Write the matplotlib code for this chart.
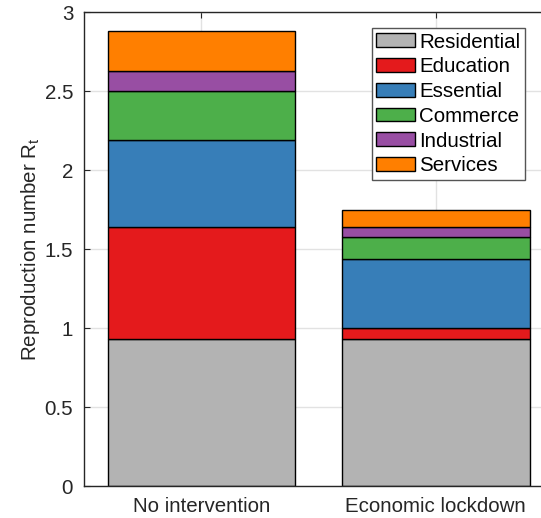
import numpy as np
import matplotlib.pyplot as plt

plt.rcParams['font.family'] = ['Liberation Sans', 'DejaVu Sans']

scenarios = ['No intervention', 'Economic lockdown']
sectors = ['Residential', 'Education', 'Essential', 'Commerce', 'Industrial', 'Services']
colors = ['#b3b3b3', '#e41a1c', '#377eb8', '#4daf4a', '#984ea3', '#ff7f00']

# contribution of each sector to R_t, per scenario
residential = [0.93, 0.93]
education = [0.71, 0.07]
essential = [0.55, 0.44]
commerce = [0.31, 0.14]
industrial = [0.13, 0.06]
services = [0.25, 0.11]

yticks = [0, 0.5, 1, 1.5, 2, 2.5, 3]
ytick_labels = ['0', '0.5', '1', '1.5', '2', '2.5', '3']

fs = 14.8
ink = '#262626'

fig = plt.figure(figsize=(5.41, 5.18), dpi=100)
ax = fig.add_axes([84.3 / 541, 31.7 / 518, (553 - 84.3) / 541, 474 / 518])

x = np.arange(1, len(scenarios) + 1)
bottom = np.zeros(len(scenarios))
for name, vals, c in zip(sectors,
                         [residential, education, essential, commerce, industrial, services],
                         colors):
    ax.bar(x, vals, 0.8, bottom=bottom, color=c, edgecolor='black', linewidth=1, label=name)
    bottom += np.array(vals)

ax.set_xlim(0.5, 2.5)
ax.set_ylim(0, 3)
ax.set_xticks(x)
ax.set_xticklabels(scenarios)
ax.set_yticks(yticks)
ax.set_yticklabels(ytick_labels)
ax.set_ylabel('Reproduction number R$_\\mathregular{t}$', fontsize=fs, color=ink, labelpad=2)

ax.grid(True, color='#e2e2e2', linewidth=1)
ax.set_axisbelow(True)
ax.tick_params(direction='in', length=4, width=0.8, colors=ink, labelsize=fs,
               top=True, right=False, pad=8)
ax.tick_params(axis='x', pad=8)
for s in ['left', 'bottom', 'top']:
    ax.spines[s].set_color(ink)
    ax.spines[s].set_linewidth(1)
ax.spines['right'].set_visible(False)

leg = ax.legend(loc='upper right', bbox_to_anchor=(525 / 541, 1 - 28 / 518),
                bbox_transform=fig.transFigure, borderaxespad=0, fontsize=fs,
                fancybox=False, framealpha=1, edgecolor='#555555',
                handlelength=1.9, handleheight=0.65, handletextpad=0.2,
                labelspacing=0.28, borderpad=0.22)
leg.get_frame().set_linewidth(1)

fig.savefig('out.png', dpi=100)
